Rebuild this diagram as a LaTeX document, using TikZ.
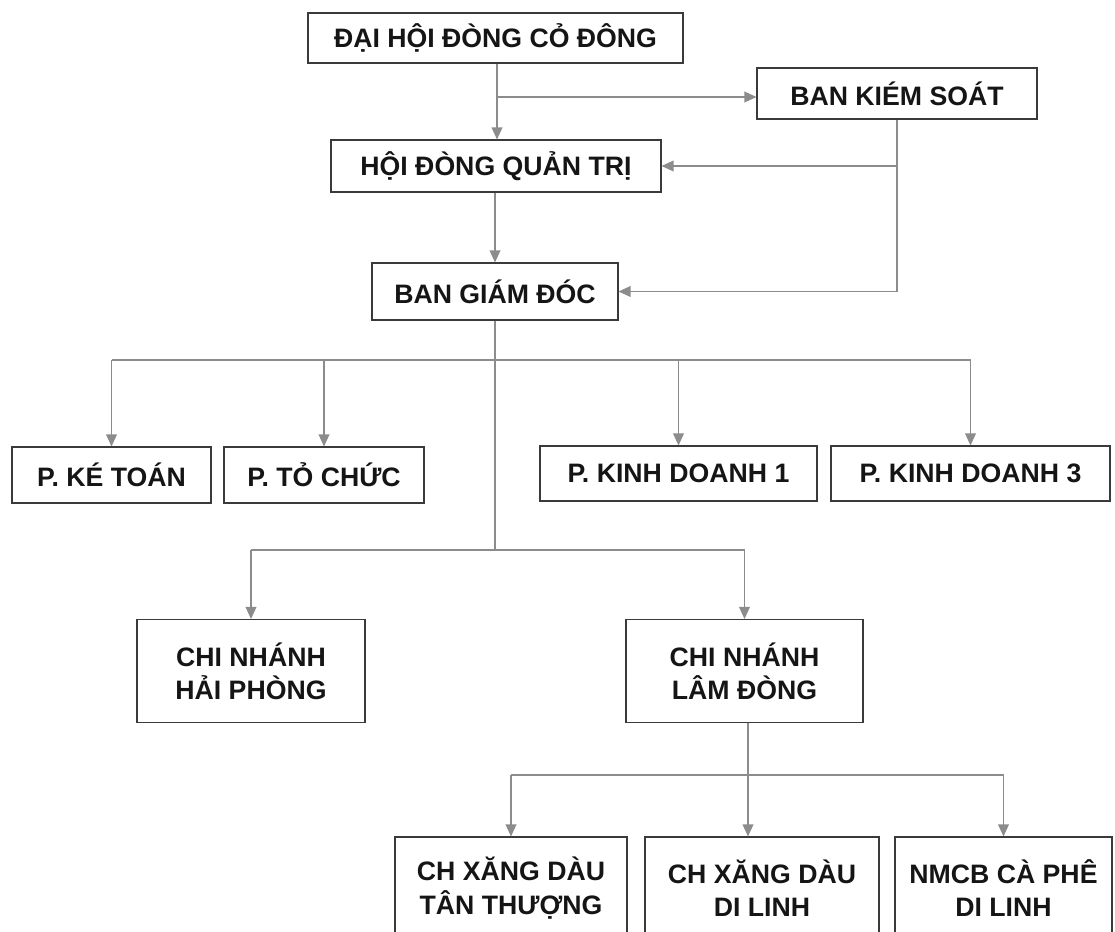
\documentclass[tikz,border=0pt]{standalone}
\usepackage{fontspec}
\setmainfont{Liberation Sans}
\usetikzlibrary{arrows.meta}
\definecolor{ln}{HTML}{8C8C8C}
\definecolor{bd}{HTML}{3A3A3A}
\definecolor{tx}{HTML}{151515}
\tikzset{
 box/.style={draw=bd, line width=0.8pt, inner sep=0pt, align=center, text=tx, font=\bfseries\fontsize{20}{25}\selectfont},
 sz/.style 2 args={minimum width=#1*0.75pt, minimum height=#2*0.75pt},
 link/.style={draw=ln, line width=1pt},
 arr/.style={link, -{Triangle[length=9pt,width=8pt]}},
}
\begin{document}
\begin{tikzpicture}[x=0.75pt,y=-0.75pt]
\fill[white] (0,0) rectangle (1115,932);
\clip (0,0) rectangle (1115,932);
% boxes
\node[box, sz={375}{50}] (dhd) at (495.5,38) {ĐẠI HỘI ĐÒNG CỎ ĐÔNG};
\node[box, sz={280}{51}] (bks) at (897,93.5) {BAN KIÉM SOÁT};
\node[box, sz={330}{52}] (hdqt) at (496,166) {HỘI ĐÒNG QUẢN TRỊ};
\node[box, sz={246}{57}] (bgd) at (495,291.5) {BAN GIÁM ĐÓC};
\node[box, sz={199}{56}] (kt) at (111.5,475) {P. KÉ TOÁN};
\node[box, sz={200}{56}] (tc) at (324,475) {P. TỎ CHỨC};
\node[box, sz={277}{55}] (kd1) at (678.5,473.5) {P. KINH DOANH 1};
\node[box, sz={279}{55}] (kd3) at (970.5,473.5) {P. KINH DOANH 3};
\node[box, sz={228}{103}] (hp) at (251,671) {CHI NHÁNH\\HẢI PHÒNG};
\node[box, sz={237}{103}] (ld) at (744.5,671) {CHI NHÁNH\\LÂM ĐÒNG};
\node[box, sz={232}{102}] (tt) at (511,888) {CH XĂNG DÀU\\TÂN THƯỢNG};
\node[box, sz={234}{102}] (dl) at (762,888) {CH XĂNG DÀU\\DI LINH};
\node[box, sz={217}{102}] (nm) at (1003.5,888) {NMCB CÀ PHÊ\\DI LINH};
% junctions
\coordinate (j0) at (497,97);
\coordinate (j1) at (495,360);
\coordinate (j2) at (495,550);
\coordinate (j3) at (748,775);
% top
\draw[arr] (dhd.south -| j0) -- (hdqt.north -| j0);
\draw[arr] (j0) -- (bks.west |- j0);
\draw[link] (bks.south) -- (bks.south |- bgd.east);
\draw[arr] (bks.south |- hdqt.east) -- (hdqt.east);
\draw[arr] (bks.south |- bgd.east) -- (bgd.east);
\draw[arr] (hdqt.south -| j1) -- (bgd.north -| j1);
% departments
\draw[link] (bgd.south -| j1) -- (j2);
\draw[link] (kt.north |- j1) -- (kd3.north |- j1);
\draw[arr] (kt.north |- j1) -- (kt.north);
\draw[arr] (tc.north |- j1) -- (tc.north);
\draw[arr] (kd1.north |- j1) -- (kd1.north);
\draw[arr] (kd3.north |- j1) -- (kd3.north);
% branches
\draw[link] (hp.north |- j2) -- (ld.north |- j2);
\draw[arr] (hp.north |- j2) -- (hp.north);
\draw[arr] (ld.north |- j2) -- (ld.north);
% sub-branches
\draw[link] (ld.south -| j3) -- (j3);
\draw[link] (tt.north |- j3) -- (nm.north |- j3);
\draw[arr] (tt.north |- j3) -- (tt.north);
\draw[arr] (j3) -- (dl.north -| j3);
\draw[arr] (nm.north |- j3) -- (nm.north);
\end{tikzpicture}
\end{document}
